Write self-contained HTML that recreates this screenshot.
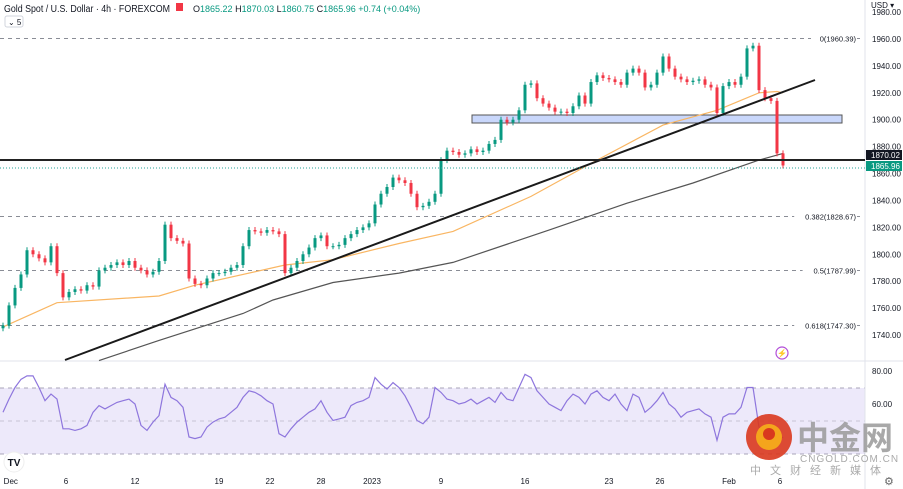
<!DOCTYPE html>
<html><head><meta charset="utf-8"><style>
html,body{margin:0;padding:0;background:#fff;}
svg{display:block;font-family:"Liberation Sans","Noto Sans CJK SC",sans-serif;}
</style></head><body>
<svg id="c" width="903" height="489" viewBox="0 0 903 489">
<rect x="0" y="0" width="903" height="489" fill="#fff"/>
<g id="grid"></g>
<rect x="0" y="388" width="865" height="66" fill="#ede9fa"/>
<line x1="0" y1="388" x2="865" y2="388" stroke="#a8a4b8" stroke-dasharray="4,4"/>
<line x1="0" y1="421" x2="865" y2="421" stroke="#c8c4d4" stroke-dasharray="4,4"/>
<line x1="0" y1="454" x2="865" y2="454" stroke="#a8a4b8" stroke-dasharray="4,4"/>
<line x1="0" y1="361" x2="903" y2="361" stroke="#e0e3eb"/>
<line x1="865" y1="0" x2="865" y2="489" stroke="#e0e3eb"/>
<g id="fib"></g>
<rect x="472" y="115" width="370" height="8" fill="#c9d7fb" stroke="#555" stroke-width="1"/>
<g id="ma"></g>
<g id="candles"></g>
<line x1="65" y1="360" x2="815" y2="80" stroke="#1a1a1a" stroke-width="2"/>
<line x1="0" y1="160" x2="865" y2="160" stroke="#222" stroke-width="2"/>
<line x1="0" y1="168" x2="865" y2="168" stroke="#26a69a" stroke-dasharray="1,2" stroke-width="1"/>
<g id="rsi"></g>
<g id="yaxis"></g>
<g id="xaxis"></g>
<text x="4" y="12" font-size="10" fill="#131722" textLength="166" lengthAdjust="spacingAndGlyphs">Gold Spot / U.S. Dollar · 4h · FOREXCOM</text>
<rect x="176" y="3" width="7" height="8" fill="#f23645"/>
<text x="193" y="12" font-size="9" fill="#089981"><tspan fill="#131722">O</tspan>1865.22 <tspan fill="#131722">H</tspan>1870.03 <tspan fill="#131722">L</tspan>1860.75 <tspan fill="#131722">C</tspan>1865.96 +0.74 (+0.04%)</text>
<rect x="5" y="16" width="18" height="11" fill="#fff" stroke="#d1d4dc" rx="2"/>
<text x="8" y="25" font-size="8" fill="#131722">⌄ 5</text>
<text x="871" y="8" font-size="8" fill="#131722">USD ▾</text>
<circle cx="782" cy="353" r="6" fill="none" stroke="#b24fd8" stroke-width="1.2"/>
<text x="782" y="356" font-size="8" fill="#b24fd8" text-anchor="middle">⚡</text>
<g><circle cx="14" cy="462" r="10" fill="#fff" stroke="#eee"/><text x="14" y="466" font-size="10" font-weight="bold" text-anchor="middle" fill="#131722">TV</text></g>
<text x="884" y="485" font-size="11" fill="#666">⚙</text>
<g>
<circle cx="769" cy="437" r="23" fill="#d9381e" opacity="0.9"/>
<circle cx="769" cy="437" r="13" fill="#f4a51c"/>
<circle cx="769" cy="434" r="6" fill="#d9381e"/>
<text x="797" y="449" font-size="32" font-weight="bold" fill="#9a9a9a" opacity="0.85">中金网</text>
<text x="800" y="462" font-size="10" fill="#aaa" letter-spacing="1">CNGOLD.COM.CN</text>
<text x="750" y="474" font-size="11" fill="#aaa" letter-spacing="9">中文财经新媒体</text>
</g>
</svg>
<script>
var ohlcCloses=[1747,1762,1775,1785,1803,1800,1797,1794,1806,1786,1768,1772,1774,1773,1777,1776,1788,1790,1792,1794,1792,1795,1790,1788,1785,1787,1795,1822,1812,1810,1808,1782,1778,1777,1782,1786,1786,1787,1790,1792,1806,1818,1817,1816,1818,1817,1815,1786,1790,1795,1800,1805,1812,1814,1806,1806,1807,1812,1815,1818,1820,1823,1837,1845,1850,1857,1855,1853,1845,1835,1836,1839,1845,1870,1877,1876,1874,1875,1878,1876,1877,1882,1885,1900,1898,1900,1907,1926,1927,1916,1912,1909,1906,1906,1905,1910,1918,1912,1928,1933,1931,1930,1928,1926,1935,1938,1935,1924,1926,1935,1947,1938,1932,1930,1928,1929,1930,1926,1924,1905,1925,1928,1926,1932,1953,1955,1922,1916,1914,1875,1866];
var rsiValues=[55,63,70,75,77,77,70,62,66,63,45,45,44,45,47,55,59,57,59,61,62,63,60,47,44,49,53,72,64,62,58,40,39,40,46,49,51,52,55,58,64,68,67,65,62,60,42,40,45,49,52,55,57,62,55,50,51,52,59,61,62,64,76,72,69,73,70,65,58,50,48,52,70,67,63,62,60,61,63,60,62,64,61,67,63,62,70,78,76,68,64,60,58,56,62,66,64,60,66,68,64,62,66,60,56,66,64,55,58,62,67,60,57,52,55,56,57,54,52,38,52,54,54,58,70,70,46,44,43,37,40];
var ma50Idx=[0,9,26,32,47,55,66,75,88,99,110,119,126,129,130];
var ma50Val=[1746,1764,1769,1777,1792,1796,1808,1817,1843,1870,1896,1907,1920,1921,1920];
var ma200Idx=[16,26,40,45,55,66,75,91,104,115,126,130];
var ma200Val=[1721,1736,1756,1766,1779,1786,1794,1818,1838,1853,1870,1875];
var priceTicks=[1980,1960,1940,1920,1900,1880,1860,1840,1820,1800,1780,1760,1740];
var rsiTicks=[80,60];
var fibLevels=[1960.39,1828.67,1787.99,1747.30];
var fibLabels=["0(1960.39)","0.382(1828.67)","0.5(1787.99)","0.618(1747.30)"];
var dateLabels=["Dec","6","12","19","22","28","2023","9","16","23","26","Feb","6"];
var dateIdx=[1.3,10.5,22,36,44.5,53,61.5,73,87,101,109.5,121,129.5];

var NS="http://www.w3.org/2000/svg";
function X(i){return 3+i*6;}
function Y(p){return 39+(1960-p)*1.3455;}
function RY(v){return 371+(80-v)*1.65;}
function mk(tag,attrs,parent){var e=document.createElementNS(NS,tag);for(var k in attrs)e.setAttribute(k,attrs[k]);document.getElementById(parent).appendChild(e);return e;}

priceTicks.forEach(function(p){
 var t=mk('text',{x:872,y:Y(p)+3,'font-size':8,fill:'#131722'},'yaxis');
 
 
 t.textContent=p.toFixed(2);
});
rsiTicks.forEach(function(v){
 var t=mk('text',{x:872,y:RY(v)+3,'font-size':8,fill:'#131722'},'yaxis');
 
 
 t.textContent=v.toFixed(2);
});
var tg=mk('rect',{x:866,y:150,width:36,height:10,fill:'#131722'},'yaxis');


var tt=mk('text',{x:871,y:158,'font-size':8,fill:'#fff'},'yaxis');tt.textContent='1870.02';
var tg2=mk('rect',{x:866,y:161,width:36,height:10,fill:'#089981'},'yaxis');


var tt2=mk('text',{x:871,y:169,'font-size':8,fill:'#fff'},'yaxis');tt2.textContent='1865.96';

dateLabels.forEach(function(d,k){
 var t=mk('text',{x:X(dateIdx[k]),y:484,'font-size':8,fill:'#131722','text-anchor':'middle'},'xaxis');
 
 
 t.textContent=d;
});

fibLevels.forEach(function(p,k){
 var y=Math.round(Y(p))+0.5;
 var l=mk('line',{x1:0,y1:y,x2:862,y2:y,stroke:'#8a8d96','stroke-dasharray':'4,4'},'fib');
 
 
 var w=fibLabels[k].length*4.2+4;
 mk('rect',{x:857-w,y:y-5,width:w,height:10,fill:'#fff'},'fib');
 var t=mk('text',{x:856,y:y+3,'font-size':7.5,fill:'#131722','text-anchor':'end'},'fib');
 
 
 t.textContent=fibLabels[k];
});

function maPath(idx,val,color,name){
 var d=idx.map(function(i,k){return (k?'L':'M')+X(i)+','+Y(val[k]).toFixed(1);}).join(' ');
 var p=mk('path',{d:d,fill:'none',stroke:color,'stroke-width':1.2},'ma');
 
 
}
maPath(ma50Idx,ma50Val,'#f9b663','ma-50-line');
maPath(ma200Idx,ma200Val,'#555','ma-200-line');

ohlcCloses.forEach(function(c,i){
 var o=i?ohlcCloses[i-1]:c-2;
 var up=c>=o;var col=up?'#089981':'#f23645';
 var top=Y(Math.max(o,c)),bot=Y(Math.min(o,c));
 var x=X(i);
 var w=mk('line',{x1:x,y1:top-3,x2:x,y2:bot+3,stroke:col,'stroke-width':1},'candles');
 
 
 var b=mk('rect',{x:x-1.5,y:top,width:3,height:Math.max(1,bot-top),fill:col},'candles');
 
 
});

var rd=rsiValues.map(function(v,i){return (i?'L':'M')+X(i)+','+RY(v).toFixed(1);}).join(' ');
var rp=mk('path',{d:rd,fill:'none',stroke:'#8e76dd','stroke-width':1.2},'rsi');


</script>
</body></html>
